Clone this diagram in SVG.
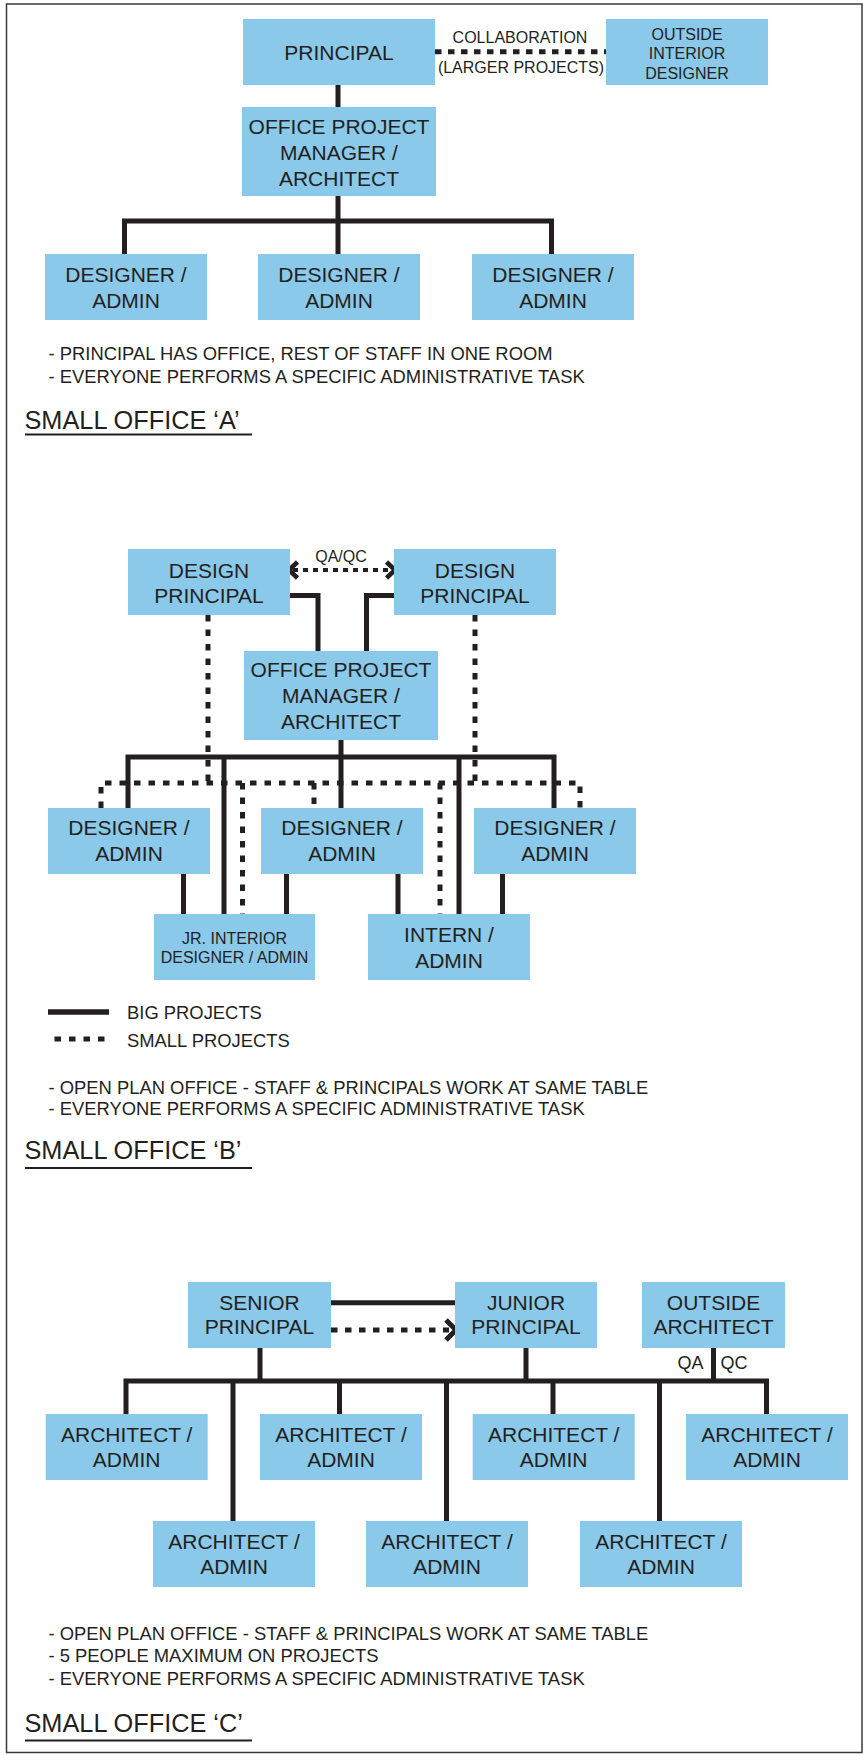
<svg xmlns="http://www.w3.org/2000/svg" width="864" height="1755" viewBox="0 0 864 1755">
<defs>
<style>
.box{fill:#8AC9E9;}
.t{font-family:"Liberation Sans",Arial,sans-serif;fill:#231F20;}
.bx{font-size:21px;text-anchor:middle;}
.sm{font-size:16px;text-anchor:middle;}
.note{font-size:18.4px;}
.title{font-size:25.3px;}
.solid{fill:none;stroke:#231F20;stroke-width:5;stroke-linecap:butt;stroke-linejoin:miter;}
.dot{fill:none;stroke:#231F20;stroke-width:5;stroke-dasharray:6.5 8;}
.chev{fill:none;stroke:#231F20;stroke-width:4.5;stroke-linejoin:miter;stroke-linecap:butt;}
.ul{stroke:#231F20;stroke-width:2;}
</style>
</defs>
<rect x="6.5" y="4" width="855.5" height="1748.5" fill="#fff" stroke="#3a3a3a" stroke-width="1.5"/>

<g id="connectors">
<!-- Office A -->
<path class="dot" d="M435,51.7 H606" style="stroke-dasharray:6.5 6.5"/>
<path class="solid" d="M338,85 V107"/>
<path class="solid" d="M338,196 V254 M124.5,254 V221 H551.5 V254"/>
<!-- Office B -->
<path class="dot" d="M293,570 H391" style="stroke-width:4;stroke-dasharray:5 5"/>
<polyline class="chev" points="297.5,562 289,570 297.5,578"/>
<polyline class="chev" points="386.5,562 395,570 386.5,578"/>
<path class="solid" d="M290,595.5 H318 V651 M394,595.5 H366.5 V651"/>
<path class="solid" d="M341,740 V808 M128,808 V757 H554 V808 M224,757 V914 M459,757 V914"/>
<path class="solid" d="M183.5,874 V914 M286.5,874 V914 M398,874 V914 M502.5,874 V914"/>
<path class="dot" d="M208,615 V783 M475,615 V783 M101,808 V783 H580 V808 M314,783 V808 M242.5,783 V914 M440,783 V914"/>
<path class="solid" d="M48,1012 H109" style="stroke-width:5.5"/>
<path class="dot" d="M48,1039 H109" style="stroke-dashoffset:8"/>
<!-- Office C -->
<path class="solid" d="M331,1302.7 H455"/>
<path class="dot" d="M331,1330 H449" style="stroke-dasharray:6.5 7.5"/>
<polyline class="chev" points="446,1320 456,1330 446,1340" style="stroke-width:5"/>
<path class="solid" d="M260,1348 V1381 M526,1348 V1381 M713.5,1348 V1381"/>
<path class="solid" d="M126,1414 V1381 H766.5 V1414 M339.5,1381 V1414 M553,1381 V1414"/>
<path class="solid" d="M233,1381 V1521 M446.5,1381 V1521 M659.5,1381 V1521"/>
</g>

<!-- ===== SMALL OFFICE A ===== -->
<g id="a-principal"><rect class="box" x="243" y="19" width="192" height="66"/><text class="t bx" x="339" y="59.5">PRINCIPAL</text></g>
<g id="a-outside"><rect class="box" x="606" y="19" width="162" height="66"/><text class="t sm"><tspan x="687" y="39.5">OUTSIDE</tspan><tspan x="687" y="58.5">INTERIOR</tspan><tspan x="687" y="78.5">DESIGNER</tspan></text></g>
<g id="a-collab-label"><text class="t sm" x="520" y="43">COLLABORATION</text><text class="t sm" x="521" y="73">(LARGER PROJECTS)</text></g>
<g id="a-opm"><rect class="box" x="242" y="107" width="194" height="89"/><text class="t bx"><tspan x="339" y="134">OFFICE PROJECT</tspan><tspan x="339" y="160">MANAGER /</tspan><tspan x="339" y="186">ARCHITECT</tspan></text></g>
<g id="a-da1"><rect class="box" x="45" y="254" width="162" height="66"/><text class="t bx"><tspan x="126" y="282">DESIGNER /</tspan><tspan x="126" y="307.5">ADMIN</tspan></text></g>
<g id="a-da2"><rect class="box" x="258" y="254" width="162" height="66"/><text class="t bx"><tspan x="339" y="282">DESIGNER /</tspan><tspan x="339" y="307.5">ADMIN</tspan></text></g>
<g id="a-da3"><rect class="box" x="472" y="254" width="162" height="66"/><text class="t bx"><tspan x="553" y="282">DESIGNER /</tspan><tspan x="553" y="307.5">ADMIN</tspan></text></g>
<g id="a-notes"><text class="t note" x="48.5" y="360">- PRINCIPAL HAS OFFICE, REST OF STAFF IN ONE ROOM</text><text class="t note" x="48.5" y="383">- EVERYONE PERFORMS A SPECIFIC ADMINISTRATIVE TASK</text></g>
<g id="a-title"><text class="t title" x="24.5" y="428.5">SMALL OFFICE ‘A’</text><line class="ul" x1="25" y1="434.5" x2="252" y2="434.5"/></g>

<!-- ===== SMALL OFFICE B ===== -->
<g id="b-dp1"><rect class="box" x="128" y="549" width="162" height="66"/><text class="t bx"><tspan x="209" y="577.5">DESIGN</tspan><tspan x="209" y="603">PRINCIPAL</tspan></text></g>
<g id="b-dp2"><rect class="box" x="394" y="549" width="162" height="66"/><text class="t bx"><tspan x="475" y="577.5">DESIGN</tspan><tspan x="475" y="603">PRINCIPAL</tspan></text></g>
<g id="b-qaqc"><text class="t sm" x="341" y="562">QA/QC</text></g>
<g id="b-opm"><rect class="box" x="244" y="651" width="194" height="89"/><text class="t bx"><tspan x="341" y="677">OFFICE PROJECT</tspan><tspan x="341" y="703">MANAGER /</tspan><tspan x="341" y="728.5">ARCHITECT</tspan></text></g>
<g id="b-da1"><rect class="box" x="48" y="808" width="162" height="66"/><text class="t bx"><tspan x="129" y="835">DESIGNER /</tspan><tspan x="129" y="861">ADMIN</tspan></text></g>
<g id="b-da2"><rect class="box" x="261" y="808" width="162" height="66"/><text class="t bx"><tspan x="342" y="835">DESIGNER /</tspan><tspan x="342" y="861">ADMIN</tspan></text></g>
<g id="b-da3"><rect class="box" x="474" y="808" width="162" height="66"/><text class="t bx"><tspan x="555" y="835">DESIGNER /</tspan><tspan x="555" y="861">ADMIN</tspan></text></g>
<g id="b-jr"><rect class="box" x="154" y="914" width="161" height="66"/><text class="t sm"><tspan x="234.5" y="943.5">JR. INTERIOR</tspan><tspan x="234.5" y="963">DESIGNER / ADMIN</tspan></text></g>
<g id="b-intern"><rect class="box" x="368" y="914" width="162" height="66"/><text class="t bx"><tspan x="449" y="942">INTERN /</tspan><tspan x="449" y="967.5">ADMIN</tspan></text></g>
<g id="b-legend"><text class="t note" x="127" y="1019">BIG PROJECTS</text><text class="t note" x="127" y="1047">SMALL PROJECTS</text></g>
<g id="b-notes"><text class="t note" x="48.5" y="1093.5">- OPEN PLAN OFFICE - STAFF &amp; PRINCIPALS WORK AT SAME TABLE</text><text class="t note" x="48.5" y="1115">- EVERYONE PERFORMS A SPECIFIC ADMINISTRATIVE TASK</text></g>
<g id="b-title"><text class="t title" x="24.5" y="1158.5">SMALL OFFICE ‘B’</text><line class="ul" x1="25" y1="1168" x2="252" y2="1168"/></g>

<!-- ===== SMALL OFFICE C ===== -->
<g id="c-senior"><rect class="box" x="188" y="1282" width="143" height="66"/><text class="t bx"><tspan x="259.5" y="1309.5">SENIOR</tspan><tspan x="259.5" y="1334">PRINCIPAL</tspan></text></g>
<g id="c-junior"><rect class="box" x="455" y="1282" width="142" height="66"/><text class="t bx"><tspan x="526" y="1309.5">JUNIOR</tspan><tspan x="526" y="1334">PRINCIPAL</tspan></text></g>
<g id="c-outside"><rect class="box" x="642" y="1282" width="143" height="66"/><text class="t bx"><tspan x="713.5" y="1309.5">OUTSIDE</tspan><tspan x="713.5" y="1334">ARCHITECT</tspan></text></g>
<g id="c-qaqc"><text class="t" x="677.5" y="1368.5" font-size="18">QA</text><text class="t" x="720.5" y="1368.5" font-size="18">QC</text></g>
<g id="c-a1"><rect class="box" x="45.7" y="1414" width="162" height="66"/><text class="t bx"><tspan x="126.7" y="1442">ARCHITECT /</tspan><tspan x="126.7" y="1467">ADMIN</tspan></text></g>
<g id="c-a2"><rect class="box" x="260" y="1414" width="162" height="66"/><text class="t bx"><tspan x="341" y="1442">ARCHITECT /</tspan><tspan x="341" y="1467">ADMIN</tspan></text></g>
<g id="c-a3"><rect class="box" x="472.7" y="1414" width="162" height="66"/><text class="t bx"><tspan x="553.7" y="1442">ARCHITECT /</tspan><tspan x="553.7" y="1467">ADMIN</tspan></text></g>
<g id="c-a4"><rect class="box" x="686" y="1414" width="162" height="66"/><text class="t bx"><tspan x="767" y="1442">ARCHITECT /</tspan><tspan x="767" y="1467">ADMIN</tspan></text></g>
<g id="c-a5"><rect class="box" x="153" y="1521" width="162" height="66"/><text class="t bx"><tspan x="234" y="1548.5">ARCHITECT /</tspan><tspan x="234" y="1573.5">ADMIN</tspan></text></g>
<g id="c-a6"><rect class="box" x="366" y="1521" width="162" height="66"/><text class="t bx"><tspan x="447" y="1548.5">ARCHITECT /</tspan><tspan x="447" y="1573.5">ADMIN</tspan></text></g>
<g id="c-a7"><rect class="box" x="580" y="1521" width="162" height="66"/><text class="t bx"><tspan x="661" y="1548.5">ARCHITECT /</tspan><tspan x="661" y="1573.5">ADMIN</tspan></text></g>
<g id="c-notes"><text class="t note" x="48.5" y="1639.5">- OPEN PLAN OFFICE - STAFF &amp; PRINCIPALS WORK AT SAME TABLE</text><text class="t note" x="48.5" y="1662">- 5 PEOPLE MAXIMUM ON PROJECTS</text><text class="t note" x="48.5" y="1684.5">- EVERYONE PERFORMS A SPECIFIC ADMINISTRATIVE TASK</text></g>
<g id="c-title"><text class="t title" x="24.5" y="1732">SMALL OFFICE ‘C’</text><line class="ul" x1="25" y1="1740.5" x2="252" y2="1740.5"/></g>
</svg>
